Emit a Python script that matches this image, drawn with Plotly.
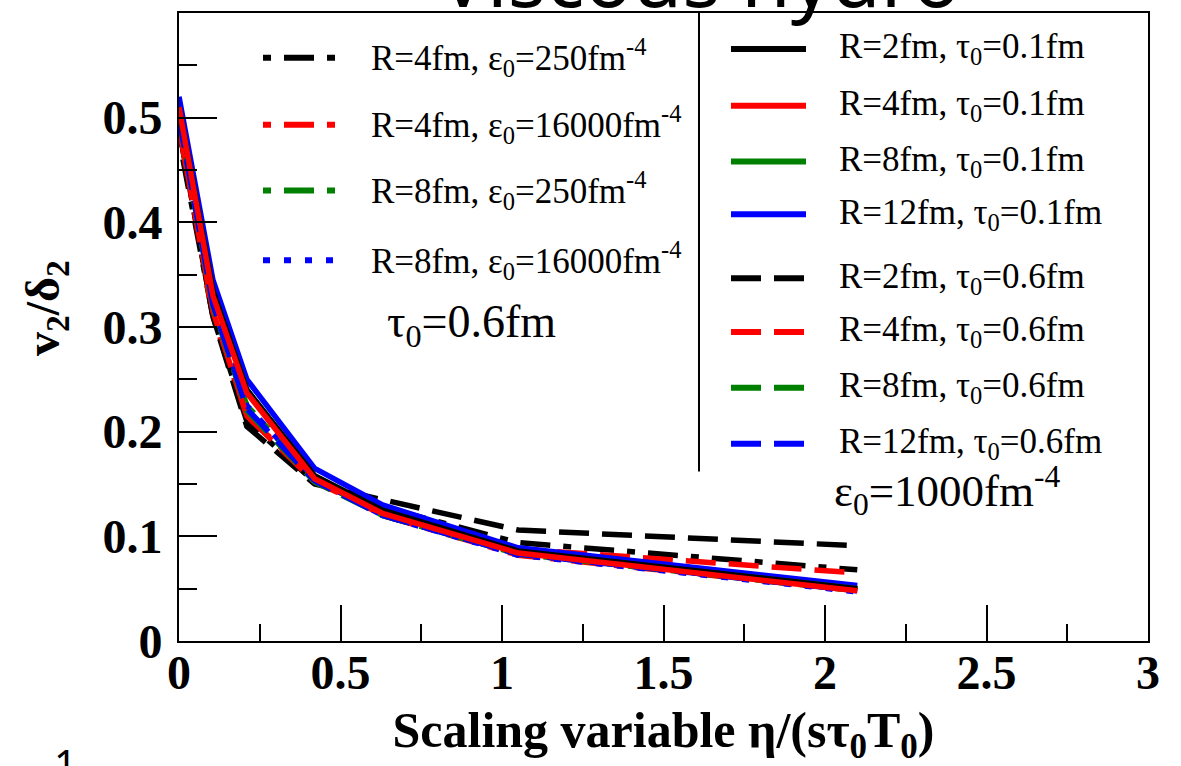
import plotly.graph_objects as go

# Scaling variable eta/(s tau0 T0) at which the runs were evaluated
scaling_x = [0, 0.105, 0.21, 0.42, 0.63, 1.05, 2.1]

# v2/delta2, epsilon0 = 1000 fm^-4, tau0 = 0.1 fm
v2_R2_t01 = [0.51, 0.335, 0.240, 0.158, 0.125, 0.086, 0.050]
v2_R4_t01 = [0.51, 0.330, 0.237, 0.155, 0.122, 0.084, 0.048]
v2_R8_t01 = [0.51, 0.332, 0.240, 0.157, 0.124, 0.085, 0.050]
v2_R12_t01 = [0.52, 0.345, 0.250, 0.165, 0.130, 0.089, 0.053]

# v2/delta2, epsilon0 = 1000 fm^-4, tau0 = 0.6 fm
v2_R2_t06 = [0.49, 0.310, 0.205, 0.150, 0.135, 0.106, 0.091]
v2_R4_t06 = [0.49, 0.315, 0.215, 0.152, 0.122, 0.088, 0.065]
v2_R8_t06 = [0.50, 0.320, 0.220, 0.152, 0.120, 0.084, 0.050]
v2_R12_t06 = [0.50, 0.322, 0.222, 0.153, 0.120, 0.083, 0.048]

# v2/delta2, tau0 = 0.6 fm, other initial energy densities
v2_R4_e250 = [0.48, 0.310, 0.210, 0.152, 0.128, 0.094, 0.068]
v2_R4_e16000 = [0.49, 0.310, 0.215, 0.155, 0.120, 0.082, 0.048]
v2_R8_e250 = [0.50, 0.320, 0.225, 0.155, 0.120, 0.083, 0.048]
v2_R8_e16000 = [0.50, 0.322, 0.225, 0.155, 0.120, 0.082, 0.047]

x_tick_vals = [0, 0.5, 1, 1.5, 2, 2.5, 3]
x_tick_text = ["0", "0.5", "1", "1.5", "2", "2.5", "3"]
y_tick_vals = [0, 0.1, 0.2, 0.3, 0.4, 0.5]
y_tick_text = ["0", "0.1", "0.2", "0.3", "0.4", "0.5"]

BLACK, RED, GREEN, BLUE = "#000000", "#ff0000", "#008000", "#0000ff"
DASHED = "30px,13px"
DASHDOT = "8px,13px,30px,13px"
DOTTED = "7px,14px"

# (label, values, colour, dash) -- left key block
left_block = [
    ("R=4fm, ε<sub>0</sub>=250fm<sup>-4</sup>", v2_R4_e250, BLACK, DASHDOT),
    ("R=4fm, ε<sub>0</sub>=16000fm<sup>-4</sup>", v2_R4_e16000, RED, DASHDOT),
    ("R=8fm, ε<sub>0</sub>=250fm<sup>-4</sup>", v2_R8_e250, GREEN, DASHDOT),
    ("R=8fm, ε<sub>0</sub>=16000fm<sup>-4</sup>", v2_R8_e16000, BLUE, DOTTED),
]
# right key block
right_block = [
    ("R=2fm, τ<sub>0</sub>=0.1fm", v2_R2_t01, BLACK, "solid"),
    ("R=4fm, τ<sub>0</sub>=0.1fm", v2_R4_t01, RED, "solid"),
    ("R=8fm, τ<sub>0</sub>=0.1fm", v2_R8_t01, GREEN, "solid"),
    ("R=12fm, τ<sub>0</sub>=0.1fm", v2_R12_t01, BLUE, "solid"),
    ("R=2fm, τ<sub>0</sub>=0.6fm", v2_R2_t06, BLACK, DASHED),
    ("R=4fm, τ<sub>0</sub>=0.6fm", v2_R4_t06, RED, DASHED),
    ("R=8fm, τ<sub>0</sub>=0.6fm", v2_R8_t06, GREEN, DASHED),
    ("R=12fm, τ<sub>0</sub>=0.6fm", v2_R12_t06, BLUE, DASHED),
]

W, H = 1181, 766
M_L, M_R, M_T, M_B = 179, 33, 11, 125
PW, PH = W - M_L - M_R, H - M_T - M_B


def fx(p):
    return (p - M_L) / PW


def fy(p):
    return (H - M_B - p) / PH


fig = go.Figure()

# draw order: broken lines underneath, solid ones on top
solid_order = [3, 2, 0, 1]
for label, vals, col, dash in left_block + right_block[4:]:
    fig.add_trace(go.Scatter(x=scaling_x, y=vals, mode="lines", name=label,
                             line=dict(color=col, width=5.5, dash=dash),
                             showlegend=False))
for i in solid_order:
    label, vals, col, dash = right_block[i]
    fig.add_trace(go.Scatter(x=scaling_x, y=vals, mode="lines", name=label,
                             line=dict(color=col, width=5.5, dash=dash),
                             showlegend=False))

shapes = []
annotations = []
serif = "Liberation Serif"
key_font = dict(family=serif, size=35, color="black")

# key blocks drawn as sample strokes plus labels
left_rows = [56, 123, 189, 259]
for (label, _, col, dash), yp in zip(left_block, left_rows):
    shapes.append(dict(type="line", xref="paper", yref="paper",
                       x0=fx(263), x1=fx(336), y0=fy(yp), y1=fy(yp),
                       line=dict(color=col, width=6, dash=dash)))
    annotations.append(dict(text=label, xref="paper", yref="paper",
                            x=fx(369), y=fy(yp), xanchor="left", yanchor="middle",
                            showarrow=False, font=key_font))

right_rows = [47, 104, 160, 213, 277, 331, 387, 443]
for (label, _, col, dash), yp in zip(right_block, right_rows):
    shapes.append(dict(type="line", xref="paper", yref="paper",
                       x0=fx(731), x1=fx(806), y0=fy(yp), y1=fy(yp),
                       line=dict(color=col, width=6, dash=dash)))
    annotations.append(dict(text=label, xref="paper", yref="paper",
                            x=fx(837), y=fy(yp), xanchor="left", yanchor="middle",
                            showarrow=False, font=key_font))

# divider between the two key blocks
shapes.append(dict(type="line", xref="paper", yref="paper",
                   x0=fx(699), x1=fx(699), y0=1, y1=fy(471),
                   line=dict(color="black", width=2)))

annotations.append(dict(text="τ<sub>0</sub>=0.6fm", xref="paper", yref="paper",
                        x=fx(385), y=fy(324), xanchor="left", yanchor="middle",
                        showarrow=False, font=dict(family=serif, size=46, color="black")))
annotations.append(dict(text="ε<sub>0</sub>=1000fm<sup>-4</sup>", xref="paper", yref="paper",
                        x=fx(832), y=fy(490), xanchor="left", yanchor="middle",
                        showarrow=False, font=dict(family=serif, size=45, color="black")))

# slide heading above the frame and page number below
annotations.append(dict(text="Viscous hydro", xref="paper", yref="paper",
                        x=fx(700), y=fy(30), xanchor="center", yanchor="bottom",
                        showarrow=False, font=dict(family="Noto Sans", size=80, color="black")))
annotations.append(dict(text="1", xref="paper", yref="paper",
                        x=fx(65), y=fy(734), xanchor="center", yanchor="top",
                        showarrow=False, font=dict(family="Noto Sans", size=40, color="black")))

# y-axis title placed by hand so it sits left of the tick labels
annotations.append(dict(text="<b>v<sub>2</sub>/δ<sub>2</sub></b>", xref="paper", yref="paper",
                        x=fx(46), y=fy(307), xanchor="center", yanchor="middle",
                        textangle=-90, showarrow=False,
                        font=dict(family=serif, size=48, color="black")))

fig.update_layout(
    width=W, height=H, autosize=False,
    margin=dict(l=M_L, r=M_R, t=M_T, b=M_B, pad=0),
    paper_bgcolor="white", plot_bgcolor="white",
    shapes=shapes, annotations=annotations,
    showlegend=False,
)

fig.update_xaxes(
    range=[0, 3], tickmode="array", tickvals=x_tick_vals, ticktext=x_tick_text,
    ticks="inside", ticklen=36, tickwidth=2, tickcolor="black",
    minor=dict(dtick=0.25, tick0=0, ticks="inside", ticklen=17, tickwidth=2,
               tickcolor="black", showgrid=False),
    showline=True, linecolor="black", linewidth=2, mirror=True,
    showgrid=False, zeroline=False,
    tickfont=dict(family=serif, size=48, color="black", weight="bold"),
    ticklabelstandoff=-12,
    title=dict(text="<b>Scaling variable η/(sτ<sub>0</sub>T<sub>0</sub>)</b>",
               font=dict(family=serif, size=50, color="black"), standoff=15),
)
fig.update_yaxes(
    range=[0, 0.6], tickmode="array", tickvals=y_tick_vals, ticktext=y_tick_text,
    ticks="inside", ticklen=38, tickwidth=2, tickcolor="black",
    minor=dict(dtick=0.05, tick0=0, ticks="inside", ticklen=18, tickwidth=2,
               tickcolor="black", showgrid=False),
    showline=True, linecolor="black", linewidth=2, mirror=True,
    showgrid=False, zeroline=False,
    tickfont=dict(family=serif, size=48, color="black", weight="bold"),
    ticklabelstandoff=5,
)

fig.write_html("out.html")
